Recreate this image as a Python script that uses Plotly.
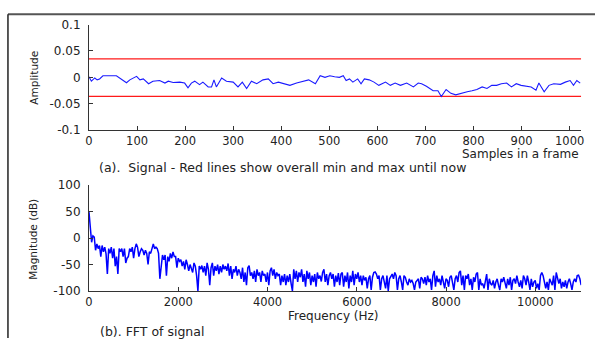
import numpy as np
import plotly.graph_objects as go
from plotly.subplots import make_subplots

# ---- Signal (top panel) ----
sig_x = [0, 5, 12, 17, 22, 29, 57, 64, 69, 78, 85, 99, 106, 113, 124, 133, 147, 158, 165, 175,
         189, 199, 206, 213, 220, 230, 237, 248, 255, 260, 265, 276, 286, 300, 310, 319, 328, 338,
         349, 362, 373, 383, 394, 404, 418, 432, 446, 457, 471, 481, 491, 501, 511, 521, 529, 535,
         542, 549, 559, 566, 573, 583, 593, 603, 617, 627, 637, 648, 661, 675, 685, 692, 702, 716,
         726, 733, 743, 753, 763, 777, 787, 797, 807, 818, 828, 838, 848, 858, 869, 879, 889, 899,
         909, 920, 930, 936, 947, 957, 967, 981, 991, 1001, 1008, 1015, 1022]
sig_y = [0.0012, -0.0073, -0.0012, -0.0048, -0.003, 0.003, 0.003, -0.0012, -0.0048, -0.0103,
         -0.0048, 0.0018, -0.0048, -0.003, -0.0121, -0.0073, -0.0061, -0.0109, -0.0073, -0.0097,
         -0.0091, -0.0109, -0.020, -0.0109, -0.0073, -0.0139, -0.0091, -0.0182, -0.0182, -0.0048,
         -0.0182, -0.0012, -0.0073, -0.0091, -0.0182, -0.0091, -0.0212, -0.0073, -0.0121, -0.0048,
         -0.003, -0.0121, -0.0091, -0.0121, -0.0152, -0.0109, -0.0073, -0.0048, -0.0121, 0.003,
         0.0, 0.003, 0.0012, 0.0, 0.003, -0.0061, -0.003, -0.0091, -0.003, -0.0121,
         -0.003, -0.0048, -0.0091, -0.0152, -0.0091, -0.0152, -0.0109, -0.0152, -0.0109, -0.0182,
         -0.0109, -0.0121, -0.017, -0.0255, -0.0255, -0.0364, -0.023, -0.0303, -0.0333, -0.0291,
         -0.0273, -0.0255, -0.023, -0.0182, -0.0212, -0.0152, -0.0152, -0.0121, -0.0109, -0.0182,
         -0.0121, -0.0152, -0.017, -0.0182, -0.0242, -0.0109, -0.0273, -0.0152, -0.0121, -0.0133,
         -0.0091, -0.0061, -0.0152, -0.0061, -0.0109]
frame_len = 1024
sig_max = 0.035
sig_min = -0.036

# ---- FFT (bottom panel), magnitude in dB on a uniform frequency grid ----
fs_half = 11025
fft_db = [49, 22, -8, 4, 2, -23, -11, -20, -14, -35, -14, -26, -17, -30, -68, -20, -29, -17, -38, -20,
          -53, -35, -68, -20, -26, -20, -35, -20, -47, -38, -35, -20, -26, -17, -38, -20, -11, -17, -35, -26,
          -20, -23, -32, -23, -29, -50, -26, -29, -20, -11, -20, -17, -20, -29, -77, -47, -32, -41, -32, -71,
          -35, -44, -29, -38, -26, -35, -35, -56, -38, -44, -41, -53, -44, -59, -41, -50, -62, -50, -56, -65,
          -47, -53, -71, -100, -53, -59, -52, -65, -53, -71, -47, -59, -89, -56, -47, -71, -53, -62, -50, -68,
          -53, -65, -50, -59, -53, -62, -48, -71, -53, -77, -59, -65, -53, -71, -59, -65, -77, -56, -83, -65,
          -89, -56, -52, -71, -65, -77, -62, -83, -59, -71, -65, -83, -62, -71, -68, -83, -65, -89, -62, -56,
          -71, -59, -77, -65, -71, -68, -89, -71, -83, -68, -89, -71, -83, -68, -86, -100, -59, -77, -62, -83,
          -65, -74, -59, -83, -68, -92, -62, -77, -65, -89, -71, -83, -68, -92, -65, -77, -71, -82, -65, -59,
          -83, -68, -89, -71, -65, -77, -68, -92,
          -71, -83, -66, -89, -68, -65, -92, -71, -83, -65, -95, -71, -83, -62, -89, -68, -77, -65, -83, -71,
          -89, -71, -80, -74, -95, -77, -71, -98, -74, -65, -64, -68, -77, -71, -98, -77, -71, -83, -95, -71,
          -100, -77, -71, -68, -77, -65, -71, -98, -77, -71, -83, -98, -71, -74, -83, -89, -77, -83, -80, -86,
          -98, -83, -80, -77, -95, -74, -77, -86, -74, -89, -71, -83, -77, -98, -71, -62, -92, -71, -83, -77,
          -89, -71, -83, -95, -77, -80, -92, -74, -71, -86, -98, -77, -71, -83, -65, -62, -89, -71, -98, -71,
          -77, -68, -89, -77, -98, -74, -83, -68, -65, -98, -77, -89, -86, -95, -83, -68, -98, -77, -86, -89,
          -80, -95, -83, -77, -89, -98, -77, -83, -74, -83, -95, -77, -89, -74, -98, -80, -77, -86, -71, -83,
          -92, -80, -95, -71, -77, -89, -71, -83, -98, -77, -92, -83, -80, -95, -86, -98, -71, -65, -71, -83,
          -95, -83, -98, -77, -83, -89, -71, -98, -65, -74, -86, -77, -95, -83, -92, -80, -95, -83, -77, -86,
          -98, -83, -77, -83, -71, -70, -77, -89]
fft_f = np.linspace(0, fs_half, len(fft_db))

x_ticks_top = list(range(0, 1001, 100))
x_ticks_bot = list(range(0, 10001, 2000))

fig = make_subplots(rows=2, cols=1)

fig.add_trace(go.Scatter(x=[0, frame_len], y=[sig_max, sig_max], mode="lines",
                         line=dict(color="#ff1a1a", width=1.2), showlegend=False), row=1, col=1)
fig.add_trace(go.Scatter(x=[0, frame_len], y=[sig_min, sig_min], mode="lines",
                         line=dict(color="#ff1a1a", width=1.2), showlegend=False), row=1, col=1)
fig.add_trace(go.Scatter(x=sig_x, y=sig_y, mode="lines",
                         line=dict(color="#1a1aff", width=1.1), showlegend=False), row=1, col=1)
fig.add_trace(go.Scatter(x=fft_f, y=fft_db, mode="lines",
                         line=dict(color="#0000ff", width=1.5), showlegend=False), row=2, col=1)

W, H = 598, 345
FONT = "DejaVu Sans"
TXT = "#222222"
x0, x1 = 86 / W, 584 / W

axis_common = dict(showgrid=False, zeroline=False, showline=True, linecolor="#333333", linewidth=1,
                   ticks="inside", ticklen=4, tickcolor="#333333", mirror=False)

fig.update_xaxes(**axis_common, tickfont=dict(family=FONT, size=11.5, color=TXT))
fig.update_yaxes(**axis_common, ticklabelstandoff=5, tickfont=dict(family=FONT, size=12, color=TXT))

fig.update_layout(
    width=W, height=H, margin=dict(l=0, r=0, t=0, b=0),
    paper_bgcolor="white", plot_bgcolor="white",
    xaxis=dict(domain=[x0, x1], range=[0, frame_len], tickvals=x_ticks_top,
               ticktext=[str(v) for v in x_ticks_top], anchor="y"),
    yaxis=dict(domain=[1 - 128.3 / H, 1 - 18.3 / H], range=[-0.1, 0.1],
               tickvals=[-0.1, -0.05, 0, 0.05, 0.1], ticktext=["-0.1", "-0.05", "0", "0.05", "0.1"],
               anchor="x"),
    xaxis2=dict(domain=[x0, x1], range=[0, fs_half], tickvals=x_ticks_bot,
                ticktext=[str(v) for v in x_ticks_bot], anchor="y2"),
    yaxis2=dict(domain=[1 - 296 / H, 1 - 185.7 / H], range=[-100, 100],
                tickvals=[-100, -50, 0, 50, 100], ticktext=["-100", "-50", "0", "50", "100"],
                anchor="x2"),
)

def ann(text, x, y, xanchor="center", angle=0, size=12.5):
    fig.add_annotation(text=text, xref="paper", yref="paper", x=x / W, y=1 - y / H,
                       xanchor=xanchor, yanchor="middle", showarrow=False, textangle=angle,
                       font=dict(family=FONT, size=size, color=TXT))

ann("Amplitude", 30, 74, angle=-90, size=10.5)
ann("Magnitude (dB)", 30, 242, angle=-90, size=10.5)
ann("Samples in a frame", 584, 153, xanchor="right", size=12)
ann("(a).  Signal - Red lines show overall min and max until now", 94, 167, xanchor="left", size=12.5)
ann("Frequency (Hz)", 333, 322, size=12)
ann("(b). FFT of signal", 95, 338, xanchor="left", size=12.5)

# outer frame lines (top and left)
fig.add_shape(type="line", xref="paper", yref="paper", x0=4 / W, x1=1, y0=1 - 7.5 / H, y1=1 - 7.5 / H,
              line=dict(color="#555555", width=2))
fig.add_shape(type="line", xref="paper", yref="paper", x0=4 / W, x1=4 / W, y0=0, y1=1 - 7.5 / H,
              line=dict(color="#222222", width=1.5))

fig.write_html("out.html")
